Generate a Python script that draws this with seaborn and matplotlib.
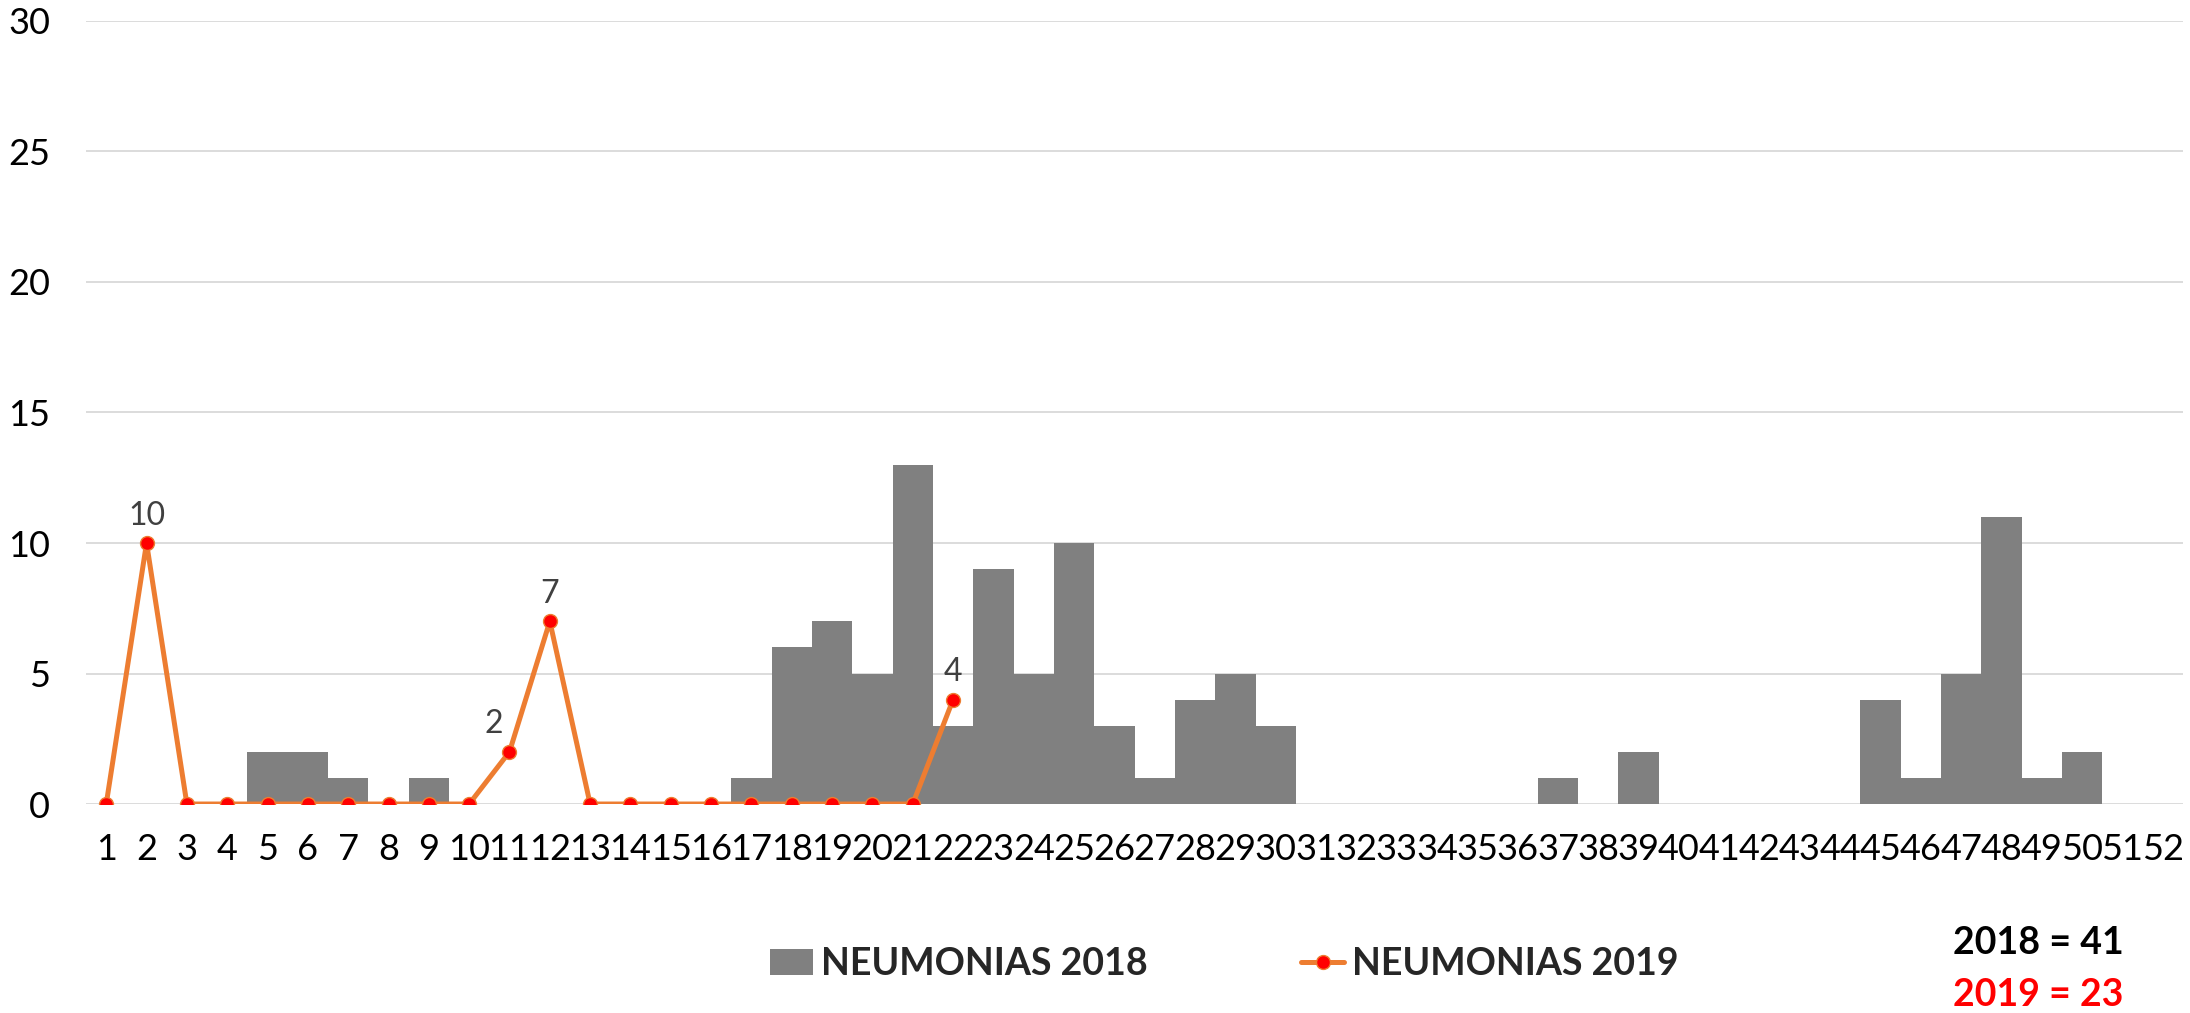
import matplotlib.pyplot as plt
from matplotlib.lines import Line2D
from matplotlib.patches import Patch
import pandas as pd
import seaborn as sns

# semanas epidemiologicas
semanas = list(range(1, 53))
casos_2018 = [0, 0, 0, 0, 2, 2, 1, 0, 1, 0,
              0, 0, 0, 0, 0, 0, 1, 6, 7, 5,
              13, 3, 9, 5, 10, 3, 1, 4, 5, 3,
              0, 0, 0, 0, 0, 0, 1, 0, 2, 0,
              0, 0, 0, 0, 4, 1, 5, 11, 1, 2,
              0, 0]
semanas_2019 = list(range(1, 23))
casos_2019 = [0, 10, 0, 0, 0, 0, 0, 0, 0, 0,
              2, 7, 0, 0, 0, 0, 0, 0, 0, 0,
              0, 4]
total_2018 = 41
total_2019 = 23

sns.set_style("white")
plt.rcParams['font.family'] = ['Lato', 'DejaVu Sans']

df18 = pd.DataFrame({"semana": semanas, "casos": casos_2018})
df19 = pd.DataFrame({"semana": semanas_2019, "casos": casos_2019})

gris = "#808080"
naranja = "#ED7D31"

fig = plt.figure(figsize=(21.9, 10.13), dpi=100)
ax = fig.add_axes([0.0393, 0.2063, 0.9575, 0.773])

sns.barplot(data=df18, x="semana", y="casos", color=gris, saturation=1,
            width=1, native_scale=True, errorbar=None, linewidth=0, ax=ax)
sns.lineplot(data=df19, x="semana", y="casos", color=naranja, linewidth=3.6,
             marker="o", markersize=10, markerfacecolor="red",
             markeredgecolor=naranja, markeredgewidth=1, ax=ax, zorder=3)

# etiquetas de datos (la de la semana 11 va corrida a la izquierda)
for s, v in zip(semanas_2019, casos_2019):
    if v > 0:
        dx = -11 if s == 11 else 0
        ax.annotate(str(v), (s, v), xytext=(dx, 9), textcoords="offset points",
                    ha="center", va="bottom", color="#404040", fontsize=23)

ax.set_xlim(0.5, 52.5)
ax.set_ylim(0, 30)
ax.set_xticks(semanas)
ax.set_xticklabels([str(s) for s in semanas])
ax.set_yticks(range(0, 31, 5))
ax.tick_params(axis="x", length=0, pad=21, labelsize=26, colors="black")
ax.tick_params(axis="y", length=0, pad=26, labelsize=26, colors="black")
ax.set_xlabel("")
ax.set_ylabel("")
ax.set_axisbelow(True)
ax.yaxis.grid(True, color="#D9D9D9", linewidth=1.3)
ax.xaxis.grid(False)
sns.despine(ax=ax, left=True, bottom=True)

handles = [Patch(facecolor=gris, edgecolor="none"),
           Line2D([0], [0], color=naranja, lw=3.6, marker="o", markersize=10,
                  markerfacecolor="red", markeredgecolor=naranja)]
fig.legend(handles=handles, labels=["NEUMONIAS 2018", "NEUMONIAS 2019"],
           loc="center", bbox_to_anchor=(0.559, 0.0484), ncol=2, frameon=False,
           prop=dict(weight="bold", size=27), handlelength=1.15, handleheight=0.7,
           handletextpad=0.2, columnspacing=4.1)

fig.text(0.9306, 0.069, f"2018 = {total_2018}", ha="center", va="center",
         fontsize=27, fontweight="bold", color="black")
fig.text(0.9306, 0.018, f"2019 = {total_2019}", ha="center", va="center",
         fontsize=27, fontweight="bold", color="red")

fig.savefig("out.png", dpi=100)
